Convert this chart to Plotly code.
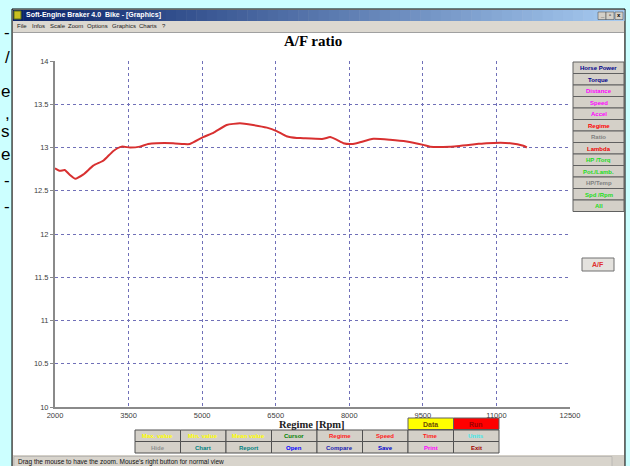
import plotly.graph_objects as go

# ---- data ----
rpm = [2000, 2100, 2200, 2290, 2410, 2580, 2780, 2990, 3190, 3360, 3530, 3730, 3900,
       4070, 4410, 4620, 4750, 5020, 5230, 5500, 5770, 6040, 6320, 6520, 6720, 6930,
       7000, 7470, 7610, 7740, 7880, 8020, 8150, 8490, 8830, 9170, 9510, 9650, 10050,
       10600, 10800, 11280, 11550, 11620]
afr = [12.76, 12.73, 12.74, 12.69, 12.64, 12.69, 12.79, 12.85, 12.96, 13.01, 13.00, 13.01, 13.04,
       13.05, 13.05, 13.04, 13.04, 13.12, 13.17, 13.26, 13.28, 13.26, 13.23, 13.19, 13.13, 13.11,
       13.11, 13.10, 13.12, 13.09, 13.05, 13.04, 13.05, 13.10, 13.09, 13.07, 13.03, 13.01, 13.01,
       13.04, 13.05, 13.05, 13.02, 13.00]

x_ticks = [2000, 3500, 5000, 6500, 8000, 9500, 11000, 12500]
y_ticks = [10, 10.5, 11, 11.5, 12, 12.5, 13, 13.5, 14]
y_tick_text = ["10", "10.5", "11", "11.5", "12", "12.5", "13", "13.5", "14"]

menu_items = ["File", "Infos", "Scale", "Zoom", "Options", "Graphics", "Charts", "?"]
menu_x = [15, 30, 48, 66, 85, 110, 137, 160]

side_buttons = ["Horse Power", "Torque", "Distance", "Speed", "Accel", "Regime", "Ratio",
                "Lambda", "HP /Torq", "Pot./Lamb.", "HP/Temp", "Spd /Rpm", "All"]
side_colors = ["#00008b", "#00008b", "#ff00ff", "#ff00ff", "#ff00ff", "#ff0000", "#808080",
               "#ee0000", "#22dd22", "#22dd22", "#808080", "#22dd22", "#22dd22"]

bottom_row1 = ["Max. value", "Min. value", "Mean value", "Cursor", "Regime", "Speed", "Time", "Units"]
bottom_row1_colors = ["#ffff00", "#ffff00", "#ffff00", "#008000", "#ff2020", "#ff2020", "#ff2020", "#40e8e8"]
bottom_row2 = ["Hide", "Chart", "Report", "Open", "Compare", "Save", "Print", "Exit"]
bottom_row2_colors = ["#909090", "#008080", "#008080", "#0000ff", "#2020b0", "#0000cc", "#ff00ff", "#a00000"]

left_fragments = ["-", "/", "e", ",", "s", "e", "-", "-"]
left_fragment_y = [33, 57, 91, 113, 132, 155, 180, 206]

W, H = 630, 466


def X(p):
    return p / W


def Y(p):
    return 1 - p / H


shapes = []
annotations = []


def rect(x0, y0, x1, y1, fill, line=None, width=1):
    shapes.append(dict(type="rect", xref="paper", yref="paper", layer="below",
                       x0=X(x0), x1=X(x1), y0=Y(y1), y1=Y(y0), fillcolor=fill,
                       line=dict(color=line or fill, width=width if line else 0)))


def text(x, y, s, size=7, color="black", family="Arial", bold=False, anchor="center"):
    annotations.append(dict(xref="paper", yref="paper", x=X(x), y=Y(y), text=("<b>%s</b>" % s) if bold else s,
                            showarrow=False, xanchor=anchor, yanchor="middle",
                            font=dict(size=size, color=color, family=family)))


# window frame
rect(12, 9, 625, 470, "#d4d0c8", "#000000", 1)
# title bar gradient
c0, c1 = (10, 36, 106), (166, 202, 240)
steps = 60
x_left, x_right = 13, 624
for i in range(steps):
    t = i / (steps - 1)
    col = "rgb(%d,%d,%d)" % tuple(int(a + (b - a) * t) for a, b in zip(c0, c1))
    xa = x_left + (x_right - x_left) * i / steps
    xb = x_left + (x_right - x_left) * (i + 1) / steps + 0.5
    rect(xa, 10, xb, 21, col)
rect(14, 11, 21, 19, "#c8c020", "#607010", 1)
text(24, 15.5, "Soft-Engine Braker 4.0  Bike - [Graphics]", size=7, color="white", bold=True, anchor="left")
for bx, glyph in zip([598, 606, 615], ["_", "▫", "x"]):
    rect(bx, 12, bx + 8, 19.5, "#d4d0c8", "#404040", 0.5)
    text(bx + 4, 15.5, glyph, size=6, color="black", bold=True)

# menu bar
rect(13, 21, 624, 32, "#dcd8d0")
for m, mx in zip(menu_items, menu_x):
    text(mx, 26.5, m, size=6, color="#202020", anchor="left")
rect(13, 32, 624, 33, "#a0a0a0")

# white chart area
rect(13, 33, 624, 455, "#ffffff")

# right hand selector buttons
for i, (lab, col) in enumerate(zip(side_buttons, side_colors)):
    y0 = 62 + i * 11.5
    rect(573, y0, 624, y0 + 11.5, "#d4d0c8", "#606060", 1)
    text(598.5, y0 + 6, lab, size=6, color=col, bold=True)

# current curve tag
rect(582, 258, 614, 271, "#e4e2de", "#707070", 1)
text(598, 264.5, "A/F", size=7, color="#e03030", bold=True)

# bottom button grid
col_w = 45.5
gx0 = 135
rect(gx0 + 6 * col_w, 418, gx0 + 7 * col_w, 429.5, "#ffff00", "#606060", 1)
text(gx0 + 6.5 * col_w, 424, "Data", size=7, color="#705000", bold=True)
rect(gx0 + 7 * col_w, 418, gx0 + 8 * col_w, 429.5, "#ff0000", "#606060", 1)
text(gx0 + 7.5 * col_w, 424, "Run", size=7, color="#a00000", bold=True)
for i in range(8):
    xa = gx0 + i * col_w
    rect(xa, 430, xa + col_w, 441.5, "#d4d0c8", "#505050", 1)
    text(xa + col_w / 2, 436, bottom_row1[i], size=6, color=bottom_row1_colors[i], bold=True)
    rect(xa, 441.5, xa + col_w, 453, "#d4d0c8", "#505050", 1)
    text(xa + col_w / 2, 447.5, bottom_row2[i], size=6, color=bottom_row2_colors[i], bold=True)

# status bar
rect(13, 455, 624, 470, "#d4d0c8")
rect(14, 456.5, 612, 470, "#d8d4cc", "#a0a0a0", 0.5)
text(16, 462, "Drag the mouse to have the zoom. Mouse's right button for normal view",
     size=6.5, color="#101010", anchor="left")

# chart titles
text(313, 41, "A/F ratio", size=15, color="black", family="Liberation Serif", bold=True)
text(312, 424, "Regime [Rpm]", size=10.5, color="#202020", family="Liberation Serif", bold=True)

# page text running off the left edge, beside the window
for s, fy in zip(left_fragments, left_fragment_y):
    annotations.append(dict(xref="paper", yref="paper", x=X(11.5), y=Y(fy), text=s, showarrow=False,
                            xanchor="right", yanchor="middle",
                            font=dict(size=17, color="black", family="Arial")))

fig = go.Figure()
fig.add_trace(go.Scatter(x=rpm, y=afr, mode="lines", line=dict(color="#d83030", width=2, shape="spline", smoothing=0.5),
                         hoverinfo="skip", showlegend=False))

axis_common = dict(showgrid=True, gridcolor="#7070b8", griddash="dot", gridwidth=1,
                   showline=True, linecolor="#8a8a8a", linewidth=2, zeroline=False,
                   automargin=False, fixedrange=True,
                   tickfont=dict(size=7.5, color="#404040", family="Arial Black, Arial"))

fig.update_layout(
    width=W, height=H,
    margin=dict(l=0, r=0, t=0, b=0, autoexpand=False),
    paper_bgcolor="#ccffff",
    plot_bgcolor="rgba(0,0,0,0)",
    shapes=shapes,
    annotations=annotations,
    showlegend=False,
    xaxis=dict(domain=[X(55), X(570)], range=[2000, 12500], tickvals=x_ticks,
               ticktext=[str(v) for v in x_ticks], ticks="", **axis_common),
    yaxis=dict(domain=[Y(407), Y(61)], range=[10, 14], tickvals=y_ticks, ticktext=y_tick_text,
               ticks="outside", ticklen=3, tickcolor="#8a8a8a", **axis_common),
)

fig.write_html("out.html")
